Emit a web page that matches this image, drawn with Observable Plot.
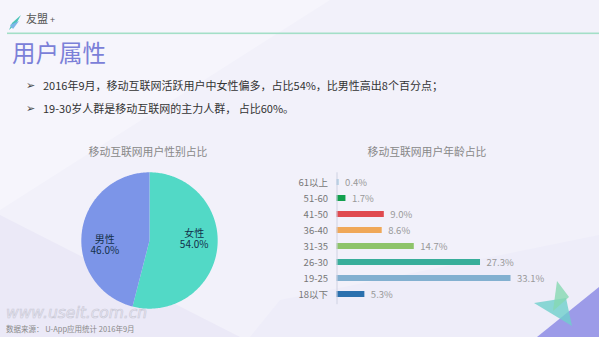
<!DOCTYPE html>
<html>
<head>
<meta charset="utf-8">
<script src="https://cdn.jsdelivr.net/npm/d3@7"></script>
<script src="https://cdn.jsdelivr.net/npm/@observablehq/plot@0.6"></script>
<style>
  html, body { margin: 0; padding: 0; }
  body { width: 599px; height: 337px; overflow: hidden; position: relative;
         background: #f2f1fa; font-family: "Noto Sans CJK SC", "Noto Sans", sans-serif; }
  .abs { position: absolute; white-space: nowrap; }
  #bg { position: absolute; left: 0; top: 0; }
  .bullet { font-size: 11px; color: #333; }
  .bullet .mk { position: absolute; left: -17px; font-size: 11px; top: -1px; color: #444; }
  .ctitle { font-size: 10.8px; color: #888; transform: translateX(-50%); }
</style>
</head>
<body>
<svg id="bg" width="599" height="337">
  <polygon points="0,0 330,0 0,210" fill="#f6f5fc"/>
  <polygon points="0,215 240,337 0,337" fill="#ebe9f7"/>
  <polygon points="280,300 599,235 599,337 250,337" fill="#eeedf9"/>
  <polygon points="537,337 599,287 599,337" fill="#9c9be8"/>
  <polygon points="534,303 566,298 572,326" fill="#6fd0cc" fill-opacity="0.8"/>
  <polygon points="557,281 569,297 553,311" fill="#86d8b2" fill-opacity="0.8"/>
  <polygon points="9,30 12,23 21,15 16,24" fill="#4cc3b8"/>
  <polygon points="10,25 19,21 13,29" fill="#7bb6e8"/>
  <rect x="7" y="32.5" width="592" height="1.6" fill="#a3dfc7"/>
</svg>
<div class="abs" style="left:26px; top:10px; font-size:11px; color:#555;">友盟<span style="font-size:9px; margin-left:2px;">+</span></div>
<div class="abs" style="left:12px; top:37px; font-size:23.5px; color:#7b80d8; line-height:30px;">用户属性</div>
<div class="abs bullet" style="left:43px; top:77px;"><span class="mk">➢</span>2016年9月，移动互联网活跃用户中女性偏多，占比54%，比男性高出8个百分点；</div>
<div class="abs bullet" style="left:43px; top:100px;"><span class="mk">➢</span>19-30岁人群是移动互联网的主力人群， 占比60%。</div>
<div class="abs ctitle" style="left:148px; top:143px;">移动互联网用户性别占比</div>
<div class="abs ctitle" style="left:427px; top:143px;">移动互联网用户年龄占比</div>
<div class="abs" style="left:6px; top:304px; font-size:15.5px; font-style:italic; color:transparent; -webkit-text-stroke:0.6px #c8c8d4; font-family:'DejaVu Sans'; line-height:18px;">www.useit.com.cn</div>
<div class="abs" style="left:6px; top:323px; font-size:7.5px; color:#888;">数据来源： U-App应用统计 2016年9月</div>
<div id="pie" class="abs" style="left:73.5px; top:165px;"></div>
<div id="bars" class="abs" style="left:280px; top:165px;"></div>
<script>
// ---- data ----
const genderLabels = ["女性", "男性"];
const genderValues = [54.0, 46.0];
const ageGroups = ["61以上", "51-60", "41-50", "36-40", "31-35", "26-30", "19-25", "18以下"];
const ageValues = [0.4, 1.7, 9.0, 8.6, 14.7, 27.3, 33.1, 5.3];

// ---- styles ----
const genderColors = ["#52d9c6", "#7c95e8"];
const genderLabelDy = [-7, 10];
const ageColors = ["#a6c8e0", "#12a04e", "#e04a4f", "#f0a858", "#8ec46a", "#38ae9a", "#82b0d0", "#2a70ae"];
const font = "'Noto Sans CJK SC', 'Noto Sans', sans-serif";

// ---- pie (slices as filled polygons in unit coordinates) ----
const total = d3.sum(genderValues);
const slicePts = [];
const labelPts = [];
let acc = 0;
genderLabels.forEach((g, i) => {
  const a0 = acc / total * 2 * Math.PI;
  acc += genderValues[i];
  const a1 = acc / total * 2 * Math.PI;
  slicePts.push({g, x: 0, y: 0});
  const n = Math.max(2, Math.ceil((a1 - a0) / (Math.PI / 180)));
  for (let k = 0; k <= n; k++) {
    const a = a0 + (a1 - a0) * k / n;
    slicePts.push({g, x: Math.sin(a), y: Math.cos(a)});
  }
  slicePts.push({g, x: 0, y: 0});
  const am = (a0 + a1) / 2;
  labelPts.push({g, i, x: Math.sin(am) * 0.66, y: Math.cos(am) * 0.66,
                 pct: genderValues[i].toFixed(1) + "%"});
});

const pie = Plot.plot({
  width: 150, height: 150, margin: 0,
  x: {domain: [-1.1, 1.1], axis: null},
  y: {domain: [-1.1, 1.1], axis: null},
  color: {domain: genderLabels, range: genderColors},
  style: {background: "transparent", fontFamily: font},
  marks: [
    Plot.line(slicePts, {x: "x", y: "y", z: "g", fill: "g", stroke: "none"}),
    ...labelPts.map(d => Plot.text([d], {x: "x", y: "y", text: "g", dy: genderLabelDy[d.i] - 5.5,
                                         fill: "#13304a", fontSize: 10})),
    ...labelPts.map(d => Plot.text([d], {x: "x", y: "y", text: "pct", dy: genderLabelDy[d.i] + 5.5,
                                         fill: "#13304a", fontSize: 10}))
  ]
});
document.getElementById("pie").appendChild(pie);

// ---- horizontal bars ----
const ageData = ageGroups.map((a, i) => ({age: a, v: ageValues[i]}));
const bars = Plot.plot({
  width: 319, height: 150,
  marginLeft: 56.5, marginRight: 78.5, marginTop: 2.3, marginBottom: 5.8,
  x: {domain: [0, 35], axis: null},
  y: {domain: ageGroups, padding: 0.635, label: null, tickSize: 0, tickPadding: 9},
  color: {domain: ageGroups, range: ageColors},
  style: {background: "transparent", fontFamily: font, fontSize: "9.5px", color: "#777"},
  marks: [
    Plot.barX(ageData, {x: "v", y: "age", fill: "age"}),
    Plot.ruleX([0], {stroke: "#cfd2e2", insetTop: 5, insetBottom: 5}),
    Plot.text(ageData, {x: "v", y: "age", text: d => d.v.toFixed(1) + "%", dx: 6, textAnchor: "start", fill: "#999", fontSize: 9.5})
  ]
});
document.getElementById("bars").appendChild(bars);
</script>
</body>
</html>
